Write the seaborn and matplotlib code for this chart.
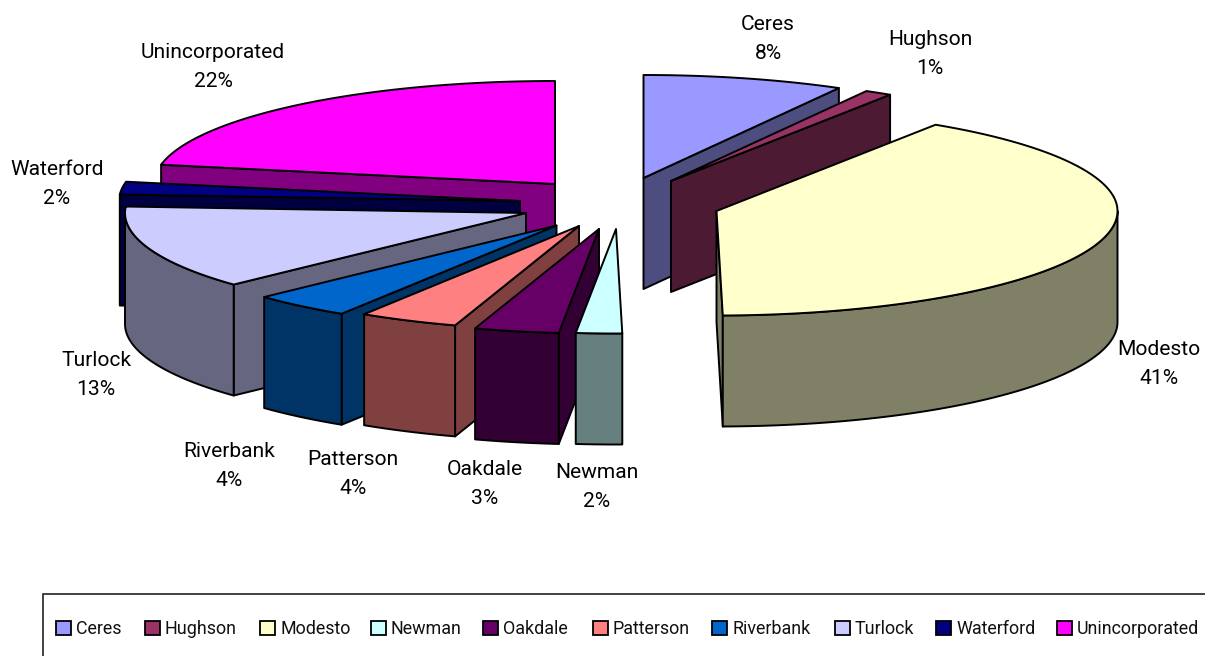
import numpy as np
import matplotlib
matplotlib.use("Agg")
import matplotlib.pyplot as plt
from matplotlib.patches import Polygon, Rectangle
import seaborn as sns

# Share of the county total by jurisdiction (percent)
jurisdictions = ["Ceres", "Hughson", "Modesto", "Newman", "Oakdale", "Patterson",
                 "Riverbank", "Turlock", "Waterford", "Unincorporated"]
shares = [8.1, 1.1, 40.55, 1.85, 3.4, 4.0, 4.0, 13.0, 2.0, 22.0]
slice_colors = ["#9999FF", "#993366", "#FFFFCC", "#CCFFFF", "#660066",
                "#FF8080", "#0066CC", "#CCCCFF", "#000080", "#FF00FF"]

# Where each exploded slice's tip sits on the canvas
slice_tips = [(643.5, 178), (671, 181), (716.5, 211), (616, 229), (599, 229),
              (579, 226), (556.5, 225.5), (526, 213), (520, 201), (555, 184)]
# Label anchor (centre of the two-line text)
label_anchors = [(768, 39), (930, 54), (1159, 364), (597, 487), (485, 484),
                 (353, 474), (229, 466), (96, 375), (57, 184), (213, 67)]

RX, RY_FAR, RY_NEAR, DEPTH = 401, 103, 104.5, 111
DRAW_ORDER = [9, 8, 7, 6, 5, 4, 3, 0, 1, 2]

sns.set_theme(style="white")
plt.rcParams["font.family"] = ["Roboto", "Liberation Sans"]

W, H = 1205, 656
fig = plt.figure(figsize=(W / 100, H / 100), dpi=100, facecolor="white")
ax = fig.add_axes([0, 0, 1, 1])
ax.set_xlim(0, W)
ax.set_ylim(H, 0)
ax.axis("off")

palette = sns.color_palette(slice_colors)
edges = np.concatenate([[0.0], np.cumsum(shares)]) * 3.6


def rim(tip, deg):
    t = np.radians(np.atleast_1d(deg))
    c = np.cos(t)
    return np.column_stack([tip[0] + RX * np.sin(t),
                            tip[1] - np.where(c > 0, RY_FAR, RY_NEAR) * c])


def shade(color):
    return tuple(c * 0.5 for c in color)


def face(points, color, z):
    ax.add_patch(Polygon(points, closed=True, facecolor=color, edgecolor="black",
                         linewidth=1.4, joinstyle="round", zorder=z))


for rank, i in enumerate(DRAW_ORDER):
    tip, start, end, color = slice_tips[i], edges[i], edges[i + 1], palette[i]
    dark = shade(color)
    z = 2 + rank
    tip_arr = np.array(tip, dtype=float)
    drop = np.array([0, DEPTH])

    # Radial side walls, kept only when they turn towards the viewer
    for deg, sign in ((start, -1), (end, 1)):
        r = np.radians(deg)
        if sign * -np.sin(r) < -1e-3:
            outer = rim(tip, deg)[0]
            face([tip_arr, outer, outer + drop, tip_arr + drop], dark, z)

    # Curved outer wall on the near half of the rim
    lo, hi = max(start, 90), min(end, 270)
    if hi > lo:
        arc = rim(tip, np.linspace(lo, hi, 80))
        face(np.vstack([arc, (arc + drop)[::-1]]), dark, z)

    # Top surface
    arc = rim(tip, np.linspace(start, end, 120))
    face(np.vstack([tip_arr, arc]), color, z)

# Percentage labels
for name, share, (x, y) in zip(jurisdictions, shares, label_anchors):
    ax.text(x, y, f"{name}\n{share:.0f}%", ha="center", va="center", fontsize=15.1,
            color="black", linespacing=1.73, zorder=50)

# Legend box with swatches
ax.add_patch(Rectangle((43, 594), W + 20, 90, facecolor="white", edgecolor="#222222",
                       linewidth=1.2, zorder=40))
swatch_x = [56, 145, 260, 371, 483, 593, 712, 835, 936, 1057]
for x, name, color in zip(swatch_x, jurisdictions, palette):
    ax.add_patch(Rectangle((x, 620.5), 14.5, 14.5, facecolor=color, edgecolor="black",
                           linewidth=1.3, zorder=41))
    ax.text(x + 20, 629, name, ha="left", va="center", fontsize=12.9,
            color="#111111", zorder=41)

fig.savefig("out.png", dpi=100, facecolor="white")
